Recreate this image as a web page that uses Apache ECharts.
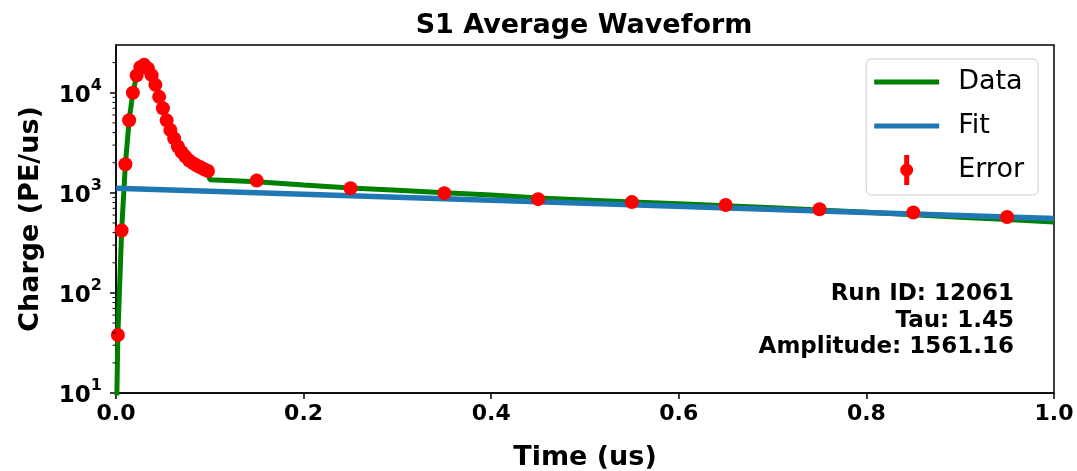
<!DOCTYPE html>
<html>
<head>
<meta charset="utf-8">
<script src="https://cdn.jsdelivr.net/npm/echarts@6/dist/echarts.min.js"></script>
<style>
  html, body { margin: 0; padding: 0; background: #fff; }
  #chart { width: 1077px; height: 471px; }
</style>
</head>
<body>
<div id="chart"></div>
<script>
// red error points (time in us, charge in PE/us)
var errTime = [0.002, 0.006, 0.010, 0.014, 0.018, 0.022, 0.026, 0.030, 0.034, 0.038,
               0.042, 0.046, 0.050, 0.054, 0.058, 0.062, 0.066, 0.070, 0.074, 0.078,
               0.082, 0.086, 0.090, 0.094, 0.098,
               0.15, 0.25, 0.35, 0.45, 0.55, 0.65, 0.75, 0.85, 0.95];
var errCharge = [38, 420, 1930, 5320, 10000, 14900, 18000, 19000, 17500, 15000,
                 12000, 9100, 7000, 5300, 4250, 3500, 2900, 2550, 2300, 2100,
                 1980, 1880, 1800, 1720, 1650,
                 1325, 1113, 993, 865, 808, 755, 685, 637, 573];

// green data line
var dataTime = [0, 0.002, 0.006, 0.010, 0.014, 0.018, 0.022, 0.026, 0.030, 0.034, 0.038,
                0.042, 0.046, 0.050, 0.054, 0.058, 0.062, 0.066, 0.070, 0.074, 0.078,
                0.082, 0.086, 0.090, 0.094, 0.098,
                0.10, 0.15, 0.20, 0.25, 0.30, 0.35, 0.40, 0.45, 0.50, 0.55,
                0.60, 0.65, 0.70, 0.75, 0.80, 0.85, 0.90, 0.95, 1.0];
var dataCharge = [3, 38, 420, 1930, 5320, 10000, 14900, 18000, 19000, 17500, 15000,
                  12000, 9100, 7000, 5300, 4250, 3500, 2900, 2550, 2300, 2100,
                  1980, 1880, 1800, 1720, 1650,
                  1350, 1290, 1200, 1120, 1060, 1000, 950, 890, 850, 810,
                  780, 745, 710, 675, 640, 605, 570, 540, 510];

// blue fit line
var fitTime = [0, 0.25, 0.5, 0.75, 1.0];
var fitCharge = [1110, 935, 785, 660, 555];

var minorTicks = [20, 30, 40, 50, 60, 70, 80, 90,
                  200, 300, 400, 500, 600, 700, 800, 900,
                  2000, 3000, 4000, 5000, 6000, 7000, 8000, 9000,
                  20000];

var infoLines = ['Run ID: 12061', 'Tau: 1.45', 'Amplitude: 1561.16'];

function pairs(xs, ys) {
    return xs.map(function (x, i) { return [x, ys[i]]; });
}

var FONT = 'DejaVu Sans';
var chart = echarts.init(document.getElementById('chart'));

chart.setOption({
    animation: false,
    textStyle: { fontFamily: FONT },
    title: {
        text: 'S1 Average Waveform',
        left: 579, top: 7, textAlign: 'center',
        textStyle: { fontFamily: FONT, fontSize: 27, fontWeight: 'bold', color: '#000' }
    },
    grid: {
        left: 116, right: 23, top: 45, bottom: 78,
        outerBoundsMode: 'none',
        show: true, borderColor: '#000', borderWidth: 1.5
    },
    legend: {
        right: 39, top: 59,
        orient: 'vertical',
        selectedMode: false,
        itemWidth: 65, itemHeight: 30, itemGap: 14,
        padding: [8, 14, 10, 8],
        borderColor: '#cccccc', borderWidth: 1, borderRadius: 5,
        backgroundColor: 'rgba(255,255,255,0.8)',
        textStyle: { fontFamily: FONT, fontSize: 27, color: '#000', padding: [0, 0, 0, 14], lineHeight: 30 },
        data: [
            { name: 'Data', icon: 'path://M0,0 H65 V5 H0 Z' },
            { name: 'Fit', icon: 'path://M0,0 H65 V5 H0 Z' },
            { name: 'Error', icon: 'path://M4,0 H9 V30 H4 Z M0,15 A6.5,6.5 0 1 1 13,15 A6.5,6.5 0 1 1 0,15 Z' }
        ]
    },
    xAxis: {
        type: 'value', min: 0, max: 1, interval: 0.2,
        name: 'Time (us)', nameLocation: 'middle', nameGap: 51,
        nameTextStyle: { fontFamily: FONT, fontSize: 27, fontWeight: 'bold', color: '#000' },
        axisLine: { lineStyle: { color: '#000', width: 1.5 } },
        axisTick: { length: 6, lineStyle: { color: '#000', width: 1.5 } },
        axisLabel: {
            margin: 10, color: '#000', fontSize: 22, fontWeight: 'bold', fontFamily: FONT,
            formatter: function (v) { return v.toFixed(1); }
        },
        splitLine: { show: false }
    },
    yAxis: {
        type: 'log', logBase: 10, min: 10, max: 30000,
        name: 'Charge (PE/us)', nameLocation: 'middle', nameGap: 72,
        nameTextStyle: { fontFamily: FONT, fontSize: 27, fontWeight: 'bold', color: '#000' },
        axisLine: { lineStyle: { color: '#000', width: 1.5 } },
        axisTick: { length: 6, lineStyle: { color: '#000', width: 1.5 } },
        axisLabel: {
            margin: 14, showMaxLabel: false,
            formatter: function (v) {
                var e = Math.round(Math.log10(v));
                if (Math.abs(Math.pow(10, e) - v) > 1e-6 * v) return '';
                return '{b|10}{s|' + e + '}';
            },
            rich: {
                b: { fontFamily: FONT, fontSize: 23, fontWeight: 'bold', color: '#000', lineHeight: 30, verticalAlign: 'bottom' },
                s: { fontFamily: FONT, fontSize: 16, fontWeight: 'bold', color: '#000', lineHeight: 30, verticalAlign: 'top' }
            }
        },
        splitLine: { show: false }
    },
    graphic: [{
        type: 'text', right: 63, top: 281, z: 100,
        style: {
            text: infoLines.join('\n'),
            font: 'bold 23px "DejaVu Sans"',
            textAlign: 'right', lineHeight: 26.5, fill: '#000'
        }
    }],
    series: [
        {
            name: 'Data', type: 'line', data: pairs(dataTime, dataCharge),
            showSymbol: false, color: '#008000',
            lineStyle: { width: 5, color: '#008000' }, z: 2
        },
        {
            name: 'Fit', type: 'line', data: pairs(fitTime, fitCharge),
            showSymbol: false, color: '#1f77b4',
            lineStyle: { width: 5.5, color: '#1f77b4' }, z: 3
        },
        {
            name: 'Error', type: 'scatter', data: pairs(errTime, errCharge),
            symbol: 'circle', symbolSize: 14, color: '#ff0000',
            itemStyle: { color: '#ff0000', opacity: 1 }, z: 4
        },
        {
            type: 'custom', data: minorTicks.map(function (v) { return [0, v]; }),
            clip: false, silent: true, z: 5,
            renderItem: function (params, api) {
                var p = api.coord([0, api.value(1)]);
                return {
                    type: 'line',
                    shape: { x1: p[0] - 3.5, y1: p[1], x2: p[0], y2: p[1] },
                    style: { stroke: '#000', lineWidth: 1 }
                };
            }
        }
    ]
});
</script>
</body>
</html>
